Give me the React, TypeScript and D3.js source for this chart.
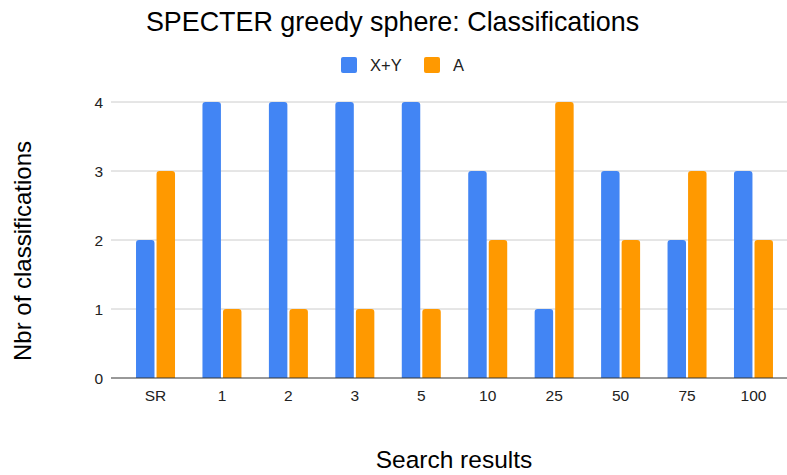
import React from "react";
import * as d3 from "d3";

const categories = ["SR", "1", "2", "3", "5", "10", "25", "50", "75", "100"];
const seriesNames = ["X+Y", "A"];
const xyValues = [2, 4, 4, 4, 4, 3, 1, 3, 2, 3];
const aValues = [3, 1, 1, 1, 1, 2, 4, 2, 3, 2];
const yTicks = [0, 1, 2, 3, 4];
const colors = ["#4285F4", "#FF9900"];

const W = 787;
const H = 475;
const font = "Liberation Sans, Arial, sans-serif";

export default function App() {
  const x = d3.scaleBand<string>().domain(categories).range([122.3, 786.7]);
  const inner = d3
    .scaleBand<string>()
    .domain(seriesNames)
    .range([0, 39])
    .paddingInner(0.1);
  const y = d3.scaleLinear().domain([0, 4]).range([378, 102]);
  const series = [xyValues, aValues];

  const barPath = (x0: number, y0: number, w: number, h: number, r: number) => {
    const rr = Math.min(r, h, w / 2);
    return `M${x0},${y0 + h}V${y0 + rr}Q${x0},${y0} ${x0 + rr},${y0}H${x0 + w - rr}Q${x0 + w},${y0} ${x0 + w},${y0 + rr}V${y0 + h}Z`;
  };

  const legendX = [341, 424];

  return (
    <svg width={W} height={H} style={{ display: "block", position: "absolute", left: 0, top: 0 }} fontFamily={font}>
      <rect width={W} height={H} fill="#fff" />
      <text x={392.5} y={31} textAnchor="middle" fontSize={26.9} fill="#000">
        SPECTER greedy sphere: Classifications
      </text>
      {/* legend */}
      {seriesNames.map((s, i) => (
        <g key={s}>
          <rect x={legendX[i]} y={57} width={16} height={16} rx={2} fill={colors[i]} />
          <text x={legendX[i] + 29} y={71} fontSize={16.5} fill="#222">
            {s}
          </text>
        </g>
      ))}
      {/* gridlines */}
      {yTicks.map((t) => (
        <g key={t}>
          {t > 0 && <line x1={111} x2={787} y1={y(t)} y2={y(t)} stroke="#ccc" strokeWidth={1} />}
          <text x={103} y={y(t) + 5.5} textAnchor="end" fontSize={15.5} fill="#222">
            {t}
          </text>
        </g>
      ))}
      {/* bars */}
      {categories.map((c, ci) => {
        const cx = (x(c) ?? 0) + x.bandwidth() / 2 - 19.5;
        return (
          <g key={c}>
            {series.map((vals, si) => {
              const bx = cx + (inner(seriesNames[si]) ?? 0);
              const by = y(vals[ci]);
              return (
                <path
                  key={si}
                  d={barPath(bx, by, inner.bandwidth(), y(0) - by, 3)}
                  fill={colors[si]}
                />
              );
            })}
            <text x={(x(c) ?? 0) + x.bandwidth() / 2} y={401} textAnchor="middle" fontSize={15.5} fill="#222">
              {c}
            </text>
          </g>
        );
      })}
      <line x1={111} x2={787} y1={y(0)} y2={y(0)} stroke="#333" strokeWidth={1} />
      <text x={454} y={468} textAnchor="middle" fontSize={24.5} fill="#000">
        Search results
      </text>
      <text
        transform={`translate(31,251) rotate(-90)`}
        textAnchor="middle"
        fontSize={24}
        fill="#000"
      >
        Nbr of classifications
      </text>
    </svg>
  );
}
